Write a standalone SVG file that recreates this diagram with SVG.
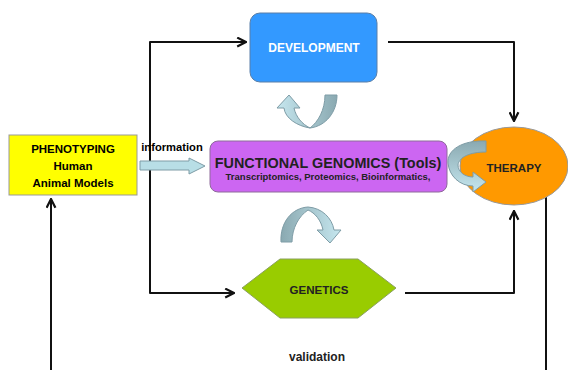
<svg xmlns="http://www.w3.org/2000/svg" width="568" height="370" viewBox="0 0 568 370">
<style>
.t{font-family:"Liberation Sans",Arial,sans-serif;font-weight:bold;text-anchor:middle}
.c{fill:none;stroke:#111;stroke-width:2;stroke-linejoin:round}
.h{stroke:#7E9CA6;stroke-width:1}
</style>
<defs>
<marker id="ah" viewBox="0 0 10 10" refX="9" refY="5" markerWidth="5.5" markerHeight="5.5" orient="auto" markerUnits="strokeWidth">
<path d="M1,1 L9,5 L1,9" fill="none" stroke="#111" stroke-width="2"/>
</marker>
<linearGradient id="gLR" x1="0" y1="0" x2="1" y2="0"><stop offset="0" stop-color="#C6E7EF"/><stop offset="1" stop-color="#8AA9B1"/></linearGradient>
<linearGradient id="gRL" x1="0" y1="0" x2="1" y2="0"><stop offset="0" stop-color="#8AA9B1"/><stop offset="1" stop-color="#C6E7EF"/></linearGradient>
<linearGradient id="gTB" x1="0" y1="0" x2="0" y2="1"><stop offset="0" stop-color="#8AA9B1"/><stop offset="1" stop-color="#C6E7EF"/></linearGradient>
</defs>
<rect width="568" height="370" fill="#fff"/>
<g id="connectors">
<path class="c" d="M150,168 V42 H246" marker-end="url(#ah)"/>
<path class="c" d="M150,168 V293 H234" marker-end="url(#ah)"/>
<path class="c" d="M388,42 H514 V121" marker-end="url(#ah)"/>
<path class="c" d="M405,293 H514 V211" marker-end="url(#ah)"/>
<path class="c" d="M51,370 V199" marker-end="url(#ah)"/>
<path class="c" d="M546,197 V370"/>
</g>
<g id="phenotyping">
<rect x="9" y="135" width="128" height="60" fill="#FFFF00" stroke="#999" stroke-width="1"/>
<text class="t" x="73" y="153" font-size="11.5">PHENOTYPING</text>
<text class="t" x="73" y="170" font-size="11.5">Human</text>
<text class="t" x="73" y="187" font-size="11.5">Animal Models</text>
</g>
<g id="information">
<path class="h" d="M140,161 H189 V158 L205,166 L189,174 V170 H140 Z" fill="#B8DEE6"/>
<text class="t" x="172" y="151" font-size="11.2">information</text>
</g>
<g id="development">
<rect x="250" y="13" width="127" height="69" rx="10" fill="#3399FF" stroke="#5A7FA8" stroke-width="1"/>
<text class="t" x="314" y="52" font-size="12" fill="#fff">DEVELOPMENT</text>
<path class="h" d="M325,95 L337,95 C337,112 326,126 310,128 C297,126 285,118 284,108 L277,108 L289,95 L300,108 L294,108 C296,117 302,124 310,128 C318,122 325,110 325,95 Z" fill="url(#gLR)"/>
</g>
<g id="functional-genomics">
<rect x="210" y="141" width="237" height="51" rx="8" fill="#CC66F2" stroke="#8E6A9A" stroke-width="1"/>
<text class="t" x="328" y="168" font-size="14.4" fill="#222">FUNCTIONAL GENOMICS (Tools)</text>
<text class="t" x="328" y="180" font-size="9.5" fill="#222">Transcriptomics, Proteomics, Bioinformatics,</text>
</g>
<g id="therapy">
<ellipse cx="514" cy="166" rx="54" ry="39" fill="#FF9900" stroke="#999" stroke-width="1"/>
<text class="t" x="514" y="172" font-size="11.5" fill="#222">THERAPY</text>
<path class="h" d="M486,141 C462,140 447,150 448,163 C449,176 460,186 473,186 L473,192 L486,182 L473,172 L473,177 C465,177 458,172 458,165 C459,157 470,152 486,152 Z" fill="url(#gTB)"/>
</g>
<g id="genetics">
<polygon points="280,259 358,259 396,288 358,318 280,318 242,288" fill="#99CC00" stroke="#8AA060" stroke-width="1"/>
<text class="t" x="319" y="294" font-size="11.5" fill="#222">GENETICS</text>
<path class="h" d="M281,242 C280,222 292,208 308,207 C322,208 332,218 334,230 L341,230 L330,243 L317,230 L323,230 C321,220 315,213 308,210 C299,216 292,228 292,242 Z" fill="url(#gRL)"/>
</g>
<text class="t" x="317" y="361" font-size="12" fill="#222">validation</text>
</svg>
